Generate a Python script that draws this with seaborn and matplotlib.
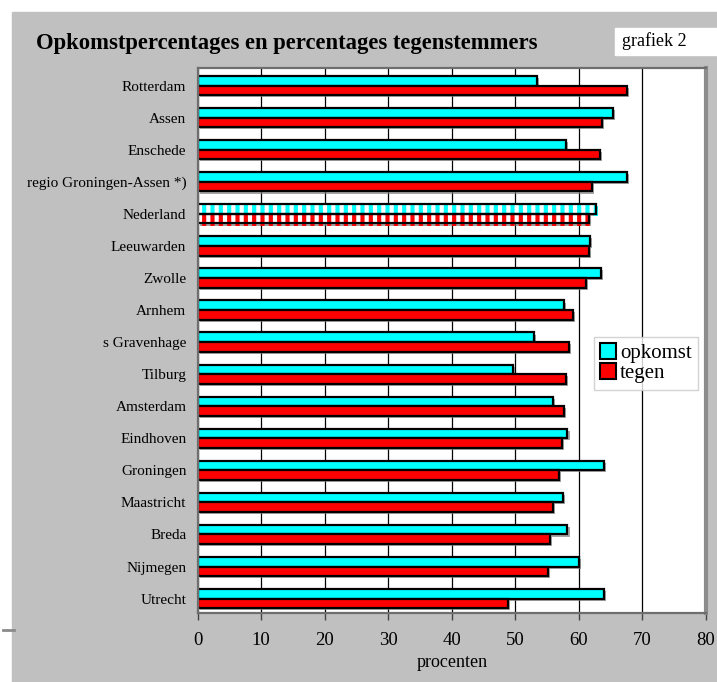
import numpy as np
import pandas as pd
import seaborn as sns
import matplotlib.pyplot as plt
import matplotlib.patheffects as pe
from matplotlib.patches import Rectangle, Patch
from matplotlib.lines import Line2D

# gegevens
steden = [
    "Rotterdam", "Assen", "Enschede", "regio Groningen-Assen *)", "Nederland",
    "Leeuwarden", "Zwolle", "Arnhem", "s Gravenhage", "Tilburg", "Amsterdam",
    "Eindhoven", "Groningen", "Maastricht", "Breda", "Nijmegen", "Utrecht",
]
opkomst = [53.4, 65.4, 58.0, 67.6, 62.7, 61.7, 63.5, 57.6, 53.0, 49.7,
           55.9, 58.2, 63.9, 57.5, 58.2, 60.0, 63.9]
tegen = [67.5, 63.7, 63.3, 62.0, 61.6, 61.6, 61.1, 59.1, 58.5, 58.0,
         57.6, 57.4, 56.8, 55.9, 55.5, 55.1, 48.8]
reeksen = ["opkomst", "tegen"]
x_ticks = [0, 10, 20, 30, 40, 50, 60, 70, 80]
gemarkeerd = "Nederland"

kleuren = {"opkomst": "#00ffff", "tegen": "#ff0000"}

df = pd.DataFrame({
    "stad": steden * 2,
    "procent": opkomst + tegen,
    "reeks": ["opkomst"] * len(steden) + ["tegen"] * len(steden),
})

plt.rcParams["font.family"] = ["Liberation Serif", "DejaVu Serif"]
plt.rcParams["hatch.linewidth"] = 3.0

W, H = 717, 682
fig = plt.figure(figsize=(W / 100, H / 100), dpi=100, facecolor="white")

# grijze achtergrond
fig.patches.append(Rectangle((12 / W, 0), 1 - 12 / W, 1 - 12 / H,
                             transform=fig.transFigure, color="#c0c0c0", zorder=-10))
fig.add_artist(Line2D([3 / W, 14 / W], [1 - 630 / H, 1 - 630 / H],
                      color="#8a8a8a", lw=2))

ax = fig.add_axes([197.5 / W, 1 - 613 / H, 508.5 / W, 545 / H])
ax.set_facecolor("white")

sns.barplot(data=df, y="stad", x="procent", hue="reeks", order=steden,
            hue_order=reeksen, palette=kleuren, orient="h", width=0.6,
            saturation=1, edgecolor="black", linewidth=1.6, errorbar=None,
            legend=False, ax=ax)

schaduw = [pe.SimplePatchShadow(offset=(1.5, -1.5), shadow_rgbFace="#808080",
                                alpha=0.7), pe.Normal()]
idx = steden.index(gemarkeerd)
for p in list(ax.patches):
    yc = p.get_y() + p.get_height() / 2
    if abs(yc - idx) < 0.5:
        kleur = p.get_facecolor()
        over = Rectangle(p.get_xy(), p.get_width(), p.get_height(),
                         facecolor="white", edgecolor=kleur, lw=0,
                         hatch="||", zorder=p.get_zorder() - 0.1)
        over.set_path_effects(schaduw)
        ax.add_patch(over)
        p.set_facecolor("none")
    else:
        p.set_path_effects(schaduw)

ax.set_xlim(0, 80)
ax.set_ylim(16.45, -0.55)
ax.set_xticks(x_ticks)
ax.grid(axis="x", color="black", lw=0.9)
ax.grid(axis="y", visible=False)
ax.set_axisbelow(True)

for s in ["left", "top", "bottom"]:
    ax.spines[s].set_color("#6e6e6e")
    ax.spines[s].set_linewidth(1.6)
ax.spines["right"].set_color("#8c8c8c")
ax.spines["right"].set_linewidth(3)

ax.tick_params(axis="y", length=0, pad=8, labelsize=11)
ax.tick_params(axis="x", direction="out", length=5, width=1, color="#444444",
               labelsize=13.5, pad=9)
ax.set_ylabel("")
ax.set_xlabel("procenten", fontsize=13, labelpad=3)

handles = [Patch(facecolor=kleuren[r], edgecolor="black", lw=1.5) for r in reeksen]
leg = ax.legend(handles, reeksen, loc="upper left", bbox_to_anchor=(0.78, 0.506),
                frameon=True, fancybox=False, edgecolor="#c8c8c8",
                fontsize=15, handlelength=0.75, handleheight=0.75,
                handletextpad=0.2, labelspacing=0.0, borderpad=0.3,
                borderaxespad=0)
leg.get_frame().set_linewidth(1)

fig.text(36 / W, 1 - 43 / H, "Opkomstpercentages en percentages tegenstemmers",
         fontsize=16.3, fontweight="bold", va="center", ha="left")
fig.patches.append(Rectangle((615 / W, 1 - 55 / H), 102 / W, 27 / H,
                             transform=fig.transFigure, color="white", zorder=-5))
fig.text(622 / W, 1 - 41 / H, "grafiek 2", fontsize=13, va="center", ha="left")

fig.savefig("out.png", dpi=100)
